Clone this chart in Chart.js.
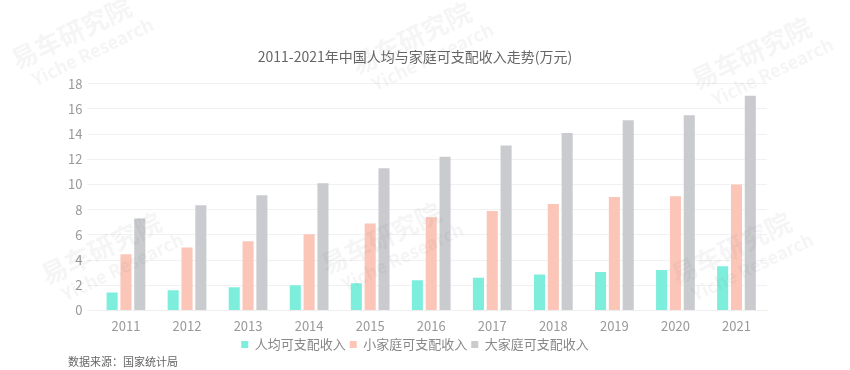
<!DOCTYPE html>
<html><head><meta charset="utf-8">
<script src="https://cdn.jsdelivr.net/npm/chart.js@4/dist/chart.umd.min.js"></script>
<style>html,body{margin:0;padding:0;background:#fff}#wrap{width:850px;height:370px;position:relative}</style>
</head><body><div id="wrap"><canvas id="c" width="850" height="370"></canvas></div>
<script>
const categories = ['2011','2012','2013','2014','2015','2016','2017','2018','2019','2020','2021'];
const perCapita = [1.43,1.6,1.83,2.0,2.15,2.4,2.6,2.85,3.05,3.2,3.5];
const smallFamily = [4.46,5.0,5.5,6.05,6.9,7.4,7.9,8.46,9.0,9.07,10.0];
const bigFamily = [7.3,8.36,9.15,10.1,11.3,12.2,13.1,14.1,15.1,15.5,17.05];
const seriesNames = ['人均可支配收入','小家庭可支配收入','大家庭可支配收入'];
const titleText = '2011-2021年中国人均与家庭可支配收入走势(万元)';
const sourceText = '数据来源：国家统计局';
const FONT = '"Noto Sans CJK SC","Noto Sans",sans-serif';

const extras = {
  id:'extras',
  afterDraw(chart){
    const ctx = chart.ctx;
    ctx.save();
    ctx.fillStyle = '#666';
    ctx.font = '11px ' + FONT;
    ctx.textBaseline = 'middle';
    ctx.fillText(sourceText, 68, 362);
    const marks = [[80,40],[420,45],[760,60],[110,255],[390,245],[740,255]];
    ctx.fillStyle = 'rgba(120,120,120,0.07)';
    marks.forEach(([x,y])=>{
      ctx.save();
      ctx.translate(x,y);
      ctx.rotate(-Math.PI/7);
      ctx.font = 'bold 26px ' + FONT;
      ctx.fillText('易车研究院',-70,-10);
      ctx.font = 'bold 18px ' + FONT;
      ctx.fillText('Yiche Research',-60,16);
      ctx.restore();
    });
    ctx.restore();
  }
};

new Chart(document.getElementById('c'), {
  type:'bar',
  data:{
    labels:categories,
    datasets:[
      {label:seriesNames[0], data:perCapita, backgroundColor:'#7eeedc'},
      {label:seriesNames[1], data:smallFamily, backgroundColor:'#fbc5b8'},
      {label:seriesNames[2], data:bigFamily, backgroundColor:'#c9cbcf'}
    ]
  },
  options:{
    responsive:false,
    animation:false,
    layout:{padding:{left:63,right:83,top:0,bottom:9}},
    datasets:{bar:{categoryPercentage:0.68,barPercentage:0.8}},
    plugins:{
      title:{display:true,text:titleText,color:'#666',font:{family:FONT,size:14,weight:'normal'},padding:{top:48,bottom:19}},
      legend:{position:'bottom',labels:{color:'#888',font:{family:FONT,size:13},boxWidth:7,boxHeight:7,padding:4}},
      tooltip:{enabled:false}
    },
    scales:{
      x:{grid:{display:false},border:{color:'#eee'},ticks:{color:'#999',font:{family:FONT,size:13},padding:0}},
      y:{min:0,max:18,ticks:{stepSize:2,color:'#999',font:{family:FONT,size:13},padding:5},grid:{color:'#f1f1f1'},border:{display:false}}
    }
  },
  plugins:[extras]
});
</script></body></html>
